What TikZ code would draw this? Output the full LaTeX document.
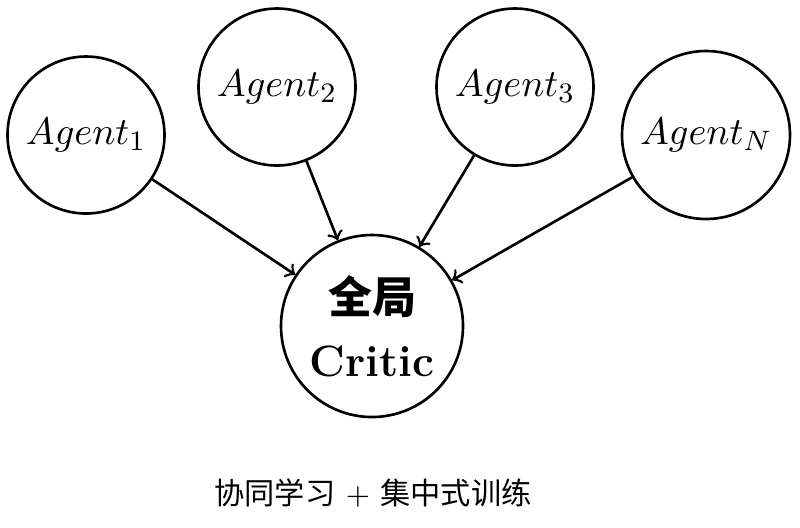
\documentclass[tikz,border=0pt]{standalone}
\usepackage{fontspec}
\newfontfamily\cjk{Noto Sans CJK SC}
\usetikzlibrary{positioning}
\begin{document}
\begin{tikzpicture}[>=to, line join=round, line width=0.75pt,
	agent/.style={circle, draw, minimum size=1.57cm, inner sep=1pt, font=\fontsize{11}{13}\selectfont},
	critic/.style={circle, draw, minimum size=1.82cm, inner sep=1pt, align=center, font=\fontsize{12.5}{18}\selectfont\bfseries}]
	%% Khung
	\useasboundingbox (0,0) rectangle (8,-5.27);
	%% Các agent
	\node[agent] (a1) at (0.86,-1.35) {$Agent_1$};
	\node[agent] (a2) at (2.77,-0.87) {$Agent_2$};
	\node[agent] (a3) at (5.15,-0.87) {$Agent_3$};
	\node[agent, minimum size=1.68cm] (aN) at (7.06,-1.35) {$Agent_N$};
	%% Critic toàn cục
	\node[critic] (C) at (3.72,-3.26) {{\cjk 全局}\\Critic};
	%% Mũi tên
	\foreach \i in {a1,a2,a3,aN}
		\draw[->] (\i) -- (C);
	%% Chú thích
	\node (cap) at (3.73,-4.93) {\cjk\fontsize{8.6}{10}\selectfont 协同学习\hspace{0.35em}{\rmfamily +}\hspace{0.35em}集中式训练};
\end{tikzpicture}
\end{document}
